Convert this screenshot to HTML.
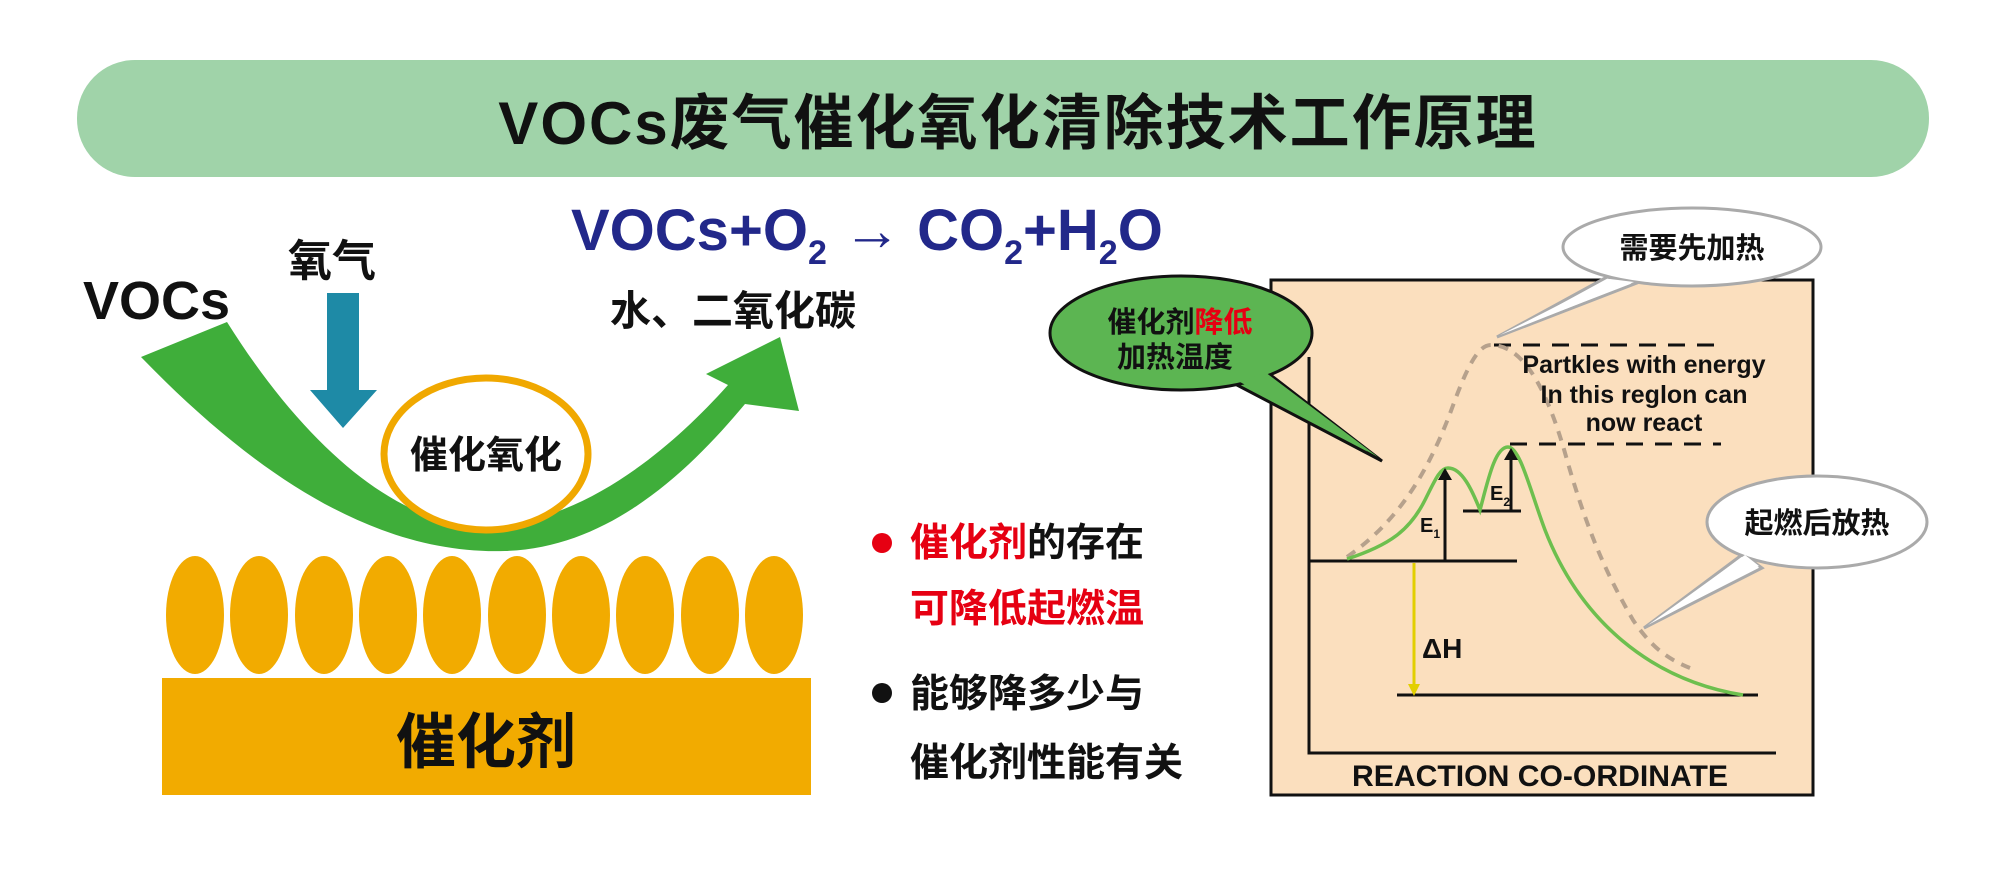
<!DOCTYPE html>
<html><head><meta charset="utf-8"><style>
html,body{margin:0;padding:0;background:#fff;}
svg{display:block;}
text{font-family:"Liberation Sans","Noto Sans CJK SC",sans-serif;font-weight:bold;}
</style></head><body>
<svg width="2004" height="895" viewBox="0 0 2004 895" xmlns="http://www.w3.org/2000/svg">
<rect width="2004" height="895" fill="#fff"/>
<rect x="77" y="60" width="1852" height="117" rx="58" fill="#a0d3a9"/>
<text x="1018" y="144" font-size="60" text-anchor="middle" fill="#111" letter-spacing="2">VOCs废气催化氧化清除技术工作原理</text>

<text x="571" y="250" font-size="58" fill="#22288a">VOCs+O<tspan font-size="34" dy="14">2</tspan><tspan dy="-14"> → CO</tspan><tspan font-size="34" dy="14">2</tspan><tspan dy="-14">+H</tspan><tspan font-size="34" dy="14">2</tspan><tspan dy="-14">O</tspan></text>
<text x="610" y="325" font-size="41" fill="#111">水、二氧化碳</text>
<text x="83" y="319" font-size="54" fill="#111">VOCs</text>
<text x="288" y="276" font-size="44" fill="#111">氧气</text>

<polygon points="327,293 359,293 359,390 377,390 343,428 310,390 327,390" fill="#1e8aa6"/>

<path d="M141,357 C260,480 380,555 505,551 C610,548 690,470 745,404 L799,411 L780,337 L706,374 L728,385 C670,450 590,515 500,526 C420,535 320,470 227,322 Z" fill="#3fae3a"/>

<ellipse cx="486" cy="454" rx="102" ry="76" fill="#fff" stroke="#f0a800" stroke-width="7"/>
<text x="486" y="468" font-size="38" text-anchor="middle" fill="#111">催化氧化</text>

<g fill="#f2ab00">
<ellipse cx="195" cy="615" rx="29" ry="59"/><ellipse cx="259" cy="615" rx="29" ry="59"/>
<ellipse cx="324" cy="615" rx="29" ry="59"/><ellipse cx="388" cy="615" rx="29" ry="59"/>
<ellipse cx="452" cy="615" rx="29" ry="59"/><ellipse cx="517" cy="615" rx="29" ry="59"/>
<ellipse cx="581" cy="615" rx="29" ry="59"/><ellipse cx="645" cy="615" rx="29" ry="59"/>
<ellipse cx="710" cy="615" rx="29" ry="59"/><ellipse cx="774" cy="615" rx="29" ry="59"/>
</g>
<rect x="162" y="678" width="649" height="117" fill="#f2ab00"/>
<text x="486" y="763" font-size="60" text-anchor="middle" fill="#111">催化剂</text>

<circle cx="882" cy="543" r="10" fill="#e60012"/>
<text x="910" y="556" font-size="39" fill="#111"><tspan fill="#e60012">催化剂</tspan>的存在</text>
<text x="910" y="622" font-size="39" fill="#e60012">可降低起燃温</text>
<circle cx="882" cy="693" r="10" fill="#111"/>
<text x="910" y="707" font-size="39" fill="#111">能够降多少与</text>
<text x="910" y="776" font-size="39" fill="#111">催化剂性能有关</text>

<rect x="1271" y="280" width="542" height="515" fill="#fbdfbe" stroke="#111" stroke-width="3"/>
<polyline points="1309,357 1309,753 1776,753" fill="none" stroke="#111" stroke-width="3"/>
<text x="1540" y="786" font-size="30" text-anchor="middle" fill="#111" textLength="376" lengthAdjust="spacingAndGlyphs" font-weight="normal">REACTION CO-ORDINATE</text>
<line x1="1309" y1="561" x2="1517" y2="561" stroke="#111" stroke-width="3"/>
<line x1="1397" y1="695" x2="1758" y2="695" stroke="#111" stroke-width="3"/>
<line x1="1463" y1="511" x2="1521" y2="511" stroke="#111" stroke-width="3"/>
<line x1="1494" y1="345" x2="1718" y2="345" stroke="#111" stroke-width="3" stroke-dasharray="17,12"/>
<line x1="1510" y1="444" x2="1721" y2="444" stroke="#111" stroke-width="3" stroke-dasharray="17,12"/>
<path d="M1347,557 C1400,520 1430,470 1455,400 C1470,360 1480,345 1491,345 C1520,345 1545,380 1567,460 C1590,540 1610,580 1633,620 C1650,645 1665,658 1690,668" fill="none" stroke="#b6a18c" stroke-width="4" stroke-dasharray="10,8"/>
<path d="M1347,559 C1390,545 1410,530 1425,500 C1435,480 1440,468 1448,468 C1462,468 1472,490 1480,510 C1488,480 1495,447 1508,447 C1520,447 1530,490 1545,530 C1580,620 1650,680 1743,695" fill="none" stroke="#6dbf4e" stroke-width="3.5"/>
<line x1="1445" y1="561" x2="1445" y2="478" stroke="#111" stroke-width="3"/>
<polygon points="1438,480 1452,480 1445,468" fill="#111"/>
<line x1="1511" y1="511" x2="1511" y2="458" stroke="#111" stroke-width="3"/>
<polygon points="1504,460 1518,460 1511,448" fill="#111"/>
<text x="1420" y="532" font-size="20" fill="#111">E<tspan font-size="12" dy="6">1</tspan></text>
<text x="1490" y="500" font-size="20" fill="#111">E<tspan font-size="12" dy="6">2</tspan></text>
<line x1="1414" y1="563" x2="1414" y2="685" stroke="#e2cf00" stroke-width="3"/>
<polygon points="1408,684 1420,684 1414,696" fill="#e2cf00"/>
<text x="1422" y="658" font-size="28" fill="#111" font-weight="normal">ΔH</text>
<g font-size="25" text-anchor="middle" fill="#111" font-weight="normal">
<text x="1644" y="373">Partkles with energy</text>
<text x="1644" y="403">In this reglon can</text>
<text x="1644" y="431">now react</text>
</g>

<path d="M1607,277 L1497,337 L1637,283 Z" fill="#fff" stroke="#aaa" stroke-width="3"/>
<ellipse cx="1692" cy="247" rx="129" ry="39" fill="#fff" stroke="#aaa" stroke-width="3"/>
<path d="M1610,279 L1500,335 L1634,282 Z" fill="#fff"/>
<text x="1692" y="258" font-size="29" text-anchor="middle" fill="#111">需要先加热</text>

<path d="M1237,385 L1382,461 L1268,373 Z" fill="#5cb552" stroke="#111" stroke-width="3"/>
<ellipse cx="1181" cy="333" rx="131" ry="57" fill="#5cb552" stroke="#111" stroke-width="3"/>
<path d="M1240,382 L1378,457 L1265,372 Z" fill="#5cb552"/>
<text x="1180" y="332" font-size="29" text-anchor="middle" fill="#111">催化剂<tspan fill="#e60012">降低</tspan></text>
<text x="1175" y="367" font-size="29" text-anchor="middle" fill="#111">加热温度</text>

<path d="M1743,554 L1644,628 L1762,568 Z" fill="#fff" stroke="#aaa" stroke-width="3"/>
<ellipse cx="1817" cy="522" rx="110" ry="46" fill="#fff" stroke="#aaa" stroke-width="3"/>
<path d="M1745,555 L1648,625 L1759,566 Z" fill="#fff"/>
<text x="1817" y="533" font-size="29" text-anchor="middle" fill="#111">起燃后放热</text>
</svg>
</body></html>
